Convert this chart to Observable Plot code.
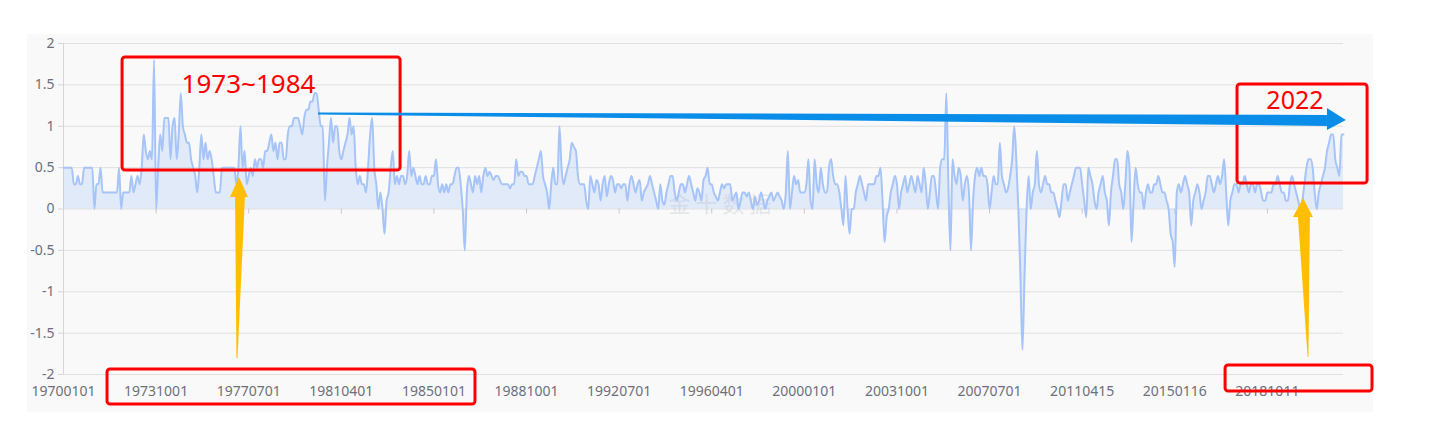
<!DOCTYPE html>
<html><head><meta charset="utf-8">
<script src="https://cdn.jsdelivr.net/npm/d3@7"></script>
<script src="https://cdn.jsdelivr.net/npm/@observablehq/plot@0.6"></script>
<style>
body{margin:0;background:#fff;}
#wrap{position:relative;width:1430px;height:432px;overflow:hidden;}
#panel{position:absolute;left:27px;top:34px;width:1346px;height:378px;background:#f9f9f9;}
#chart{position:absolute;left:0;top:0;}
</style></head><body>
<div id="wrap"><div id="panel"></div><div id="chart"></div></div>
<script>
// monthly values
const v1970s = [
 0.5,0.5,0.5,0.5,0.5,0.3,0.3,0.4,0.3,0.3,0.5,0.5,
 0.5,0.5,0.5,0.0,0.3,0.3,0.5,0.2,0.2,0.2,0.2,0.2,
 0.2,0.2,0.2,0.5,0.0,0.2,0.2,0.2,0.2,0.4,0.2,0.3,
 0.4,0.3,0.5,0.9,0.7,0.6,0.7,0.6,1.8,0.0,0.5,0.9,
 0.7,1.1,1.1,1.1,0.6,1.0,1.1,0.6,0.9,1.4,1.0,0.9,
 0.8,0.8,0.6,0.5,0.4,0.2,0.5,0.9,0.6,0.8,0.6,0.7,
 0.6,0.4,0.2,0.2,0.2,0.5,0.5,0.5,0.5,0.5,0.5,0.5,
 0.3,0.5,1.0,0.5,0.7,0.3,0.4,0.5,0.4,0.6,0.5,0.6,
 0.6,0.5,0.7,0.7,0.8,0.9,0.7,0.8,0.6,0.8,0.8,0.6,
 0.6,0.9,1.0,1.0,1.1,1.1,1.1,1.0,0.9,1.1,1.2,1.2
];
const v1980s = [
 1.3,1.3,1.4,1.4,1.2,1.0,1.0,0.1,0.5,0.8,1.1,0.8,
 1.0,1.0,0.7,0.6,0.7,0.8,0.9,1.1,0.9,1.0,0.5,0.3,
 0.4,0.3,0.3,0.2,0.5,0.9,1.1,0.5,0.3,0.0,0.2,0.0,
 -0.3,0.1,0.2,0.5,0.7,0.3,0.4,0.3,0.4,0.4,0.3,0.4,
 0.7,0.4,0.5,0.4,0.3,0.4,0.3,0.3,0.4,0.3,0.3,0.4,
 0.4,0.6,0.3,0.2,0.3,0.2,0.3,0.2,0.3,0.3,0.4,0.5,
 0.5,0.3,0.0,-0.5,0.2,0.4,0.3,0.2,0.4,0.3,0.4,0.2,
 0.4,0.5,0.4,0.45,0.4,0.35,0.4,0.4,0.35,0.3,0.3,0.3,
 0.3,0.25,0.3,0.3,0.6,0.4,0.45,0.45,0.4,0.4,0.3,0.3,
 0.3,0.4,0.5,0.6,0.7,0.4,0.3,0.2,0.0,0.3,0.5,0.3
];
const v1990s = [
 0.3,1.0,0.5,0.3,0.4,0.5,0.6,0.8,0.75,0.7,0.4,0.3,
 0.3,0.3,0.1,0.0,0.4,0.3,0.2,0.35,0.3,0.1,0.3,0.4,
 0.15,0.3,0.4,0.35,0.2,0.3,0.3,0.25,0.3,0.3,0.1,0.3,
 0.4,0.3,0.2,0.3,0.35,0.1,0.2,0.25,0.3,0.4,0.3,0.2,
 0.1,0.0,0.3,0.1,0.05,0.2,0.3,0.4,0.4,0.2,0.1,0.2,
 0.3,0.3,0.2,0.3,0.4,0.3,0.2,0.1,0.25,0.2,0.1,0.35,
 0.4,0.5,0.3,0.3,0.2,0.15,0.1,0.2,0.3,0.25,0.3,0.3,
 0.3,0.1,0.15,0.2,0.0,0.1,0.2,0.2,0.15,0.2,0.1,0.0,
 0.15,0.05,0.1,0.2,0.1,0.0,0.1,0.15,0.2,0.1,0.15,0.2,
 0.15,0.1,0.0,0.2,0.7,0.0,0.2,0.4,0.3,0.35,0.2,0.2
];
const v2000s = [
 0.2,0.3,0.6,0.1,0.0,0.6,0.3,0.2,0.5,0.3,0.2,0.2,
 0.5,0.6,0.4,0.3,0.3,0.2,0.0,-0.2,0.4,0.0,-0.3,0.0,
 0.0,0.2,0.3,0.4,0.3,0.2,0.1,0.3,0.3,0.3,0.3,0.4,
 0.4,0.5,0.1,-0.4,-0.1,0.0,0.2,0.3,0.4,0.3,0.0,0.2,
 0.3,0.4,0.2,0.3,0.4,0.3,0.2,0.4,0.3,0.2,0.5,0.3,
 0.0,0.2,0.4,0.4,0.2,0.0,0.5,0.6,0.6,1.4,0.3,-0.5,
 0.6,0.4,0.3,0.5,0.4,0.1,0.3,0.4,0.2,-0.5,0.1,0.4,
 0.5,0.4,0.5,0.4,0.4,0.3,0.0,0.2,0.4,0.3,0.3,0.8,
 0.4,0.3,0.2,0.25,0.4,0.6,1.0,0.6,0.0,-0.8,-1.7,-0.8,
 0.0,0.4,0.0,0.2,0.3,0.7,0.3,0.2,0.3,0.4,0.3,0.3
];
const v2010s = [
 0.2,0.2,0.1,0.0,-0.1,0.1,0.3,0.3,0.1,0.2,0.3,0.4,
 0.5,0.5,0.5,0.3,0.1,-0.1,0.5,0.4,0.3,0.1,0.0,0.2,
 0.3,0.4,0.2,0.1,-0.2,0.2,0.4,0.6,0.6,0.3,0.2,0.0,
 0.3,0.7,0.5,-0.4,0.1,0.5,0.3,0.2,0.2,0.0,0.2,0.3,
 0.2,0.2,0.3,0.3,0.4,0.3,0.2,0.2,0.1,0.0,-0.3,-0.4,
 -0.7,0.2,0.3,0.2,0.3,0.4,0.3,0.2,-0.2,0.1,0.2,0.3,
 0.2,0.0,0.1,0.2,0.4,0.4,0.3,0.2,0.3,0.4,0.3,0.4,
 0.6,0.2,-0.2,0.1,0.2,0.3,0.3,0.2,0.3,0.3,0.4,0.3,
 0.2,0.3,0.3,0.2,0.3,0.3,0.2,0.1,0.1,0.2,0.2,0.2,
 0.3,0.3,0.4,0.3,0.2,0.2,0.1,0.1,0.3,0.4,0.3,0.2
];
const v2020s = [
 0.1,0.0,0.1,0.3,0.5,0.6,0.6,0.5,0.2,0.0,0.2,0.3,
 0.4,0.5,0.7,0.8,0.9,0.9,0.6,0.5,0.4,0.9,0.9
];

const tickLabels = ["19700101","19731001","19770701","19810401","19850101","19881001","19920701",
  "19960401","20000101","20031001","20070701","20110415","20150116","20181011"];
const tickStep = 45;
const yTicks = [-2,-1.5,-1,-0.5,0,0.5,1,1.5,2];

// hand-drawn annotations, in data units (x = month index, y = value)
const redBoxes = [
  {x1:28.7, x2:163.8, y1:0.465, y2:1.831},
  {x1:570.5, x2:633.7, y1:0.308, y2:1.505},
  {x1:21.4, x2:200.2, y1:-2.362, y2:-1.939},
  {x1:564.7, x2:636.1, y1:-2.205, y2:-1.891}
];
const redTexts = [
  {label:"1973~1984", x:89.9, y:1.505, size:26},
  {label:"2022", x:598.4, y:1.305, size:25}
];
const blueArrow = [
  {part:"shaft", x:123.9, lo:1.136, hi:1.160},
  {part:"shaft", x:614.2, lo:0.997, hi:1.130},
  {part:"head", x:614.2, lo:0.949, hi:1.214},
  {part:"head", x:623.4, lo:1.069, hi:1.069}
];
const yellowArrows = [
  {part:"s1", y:-1.807, lo:84.3, hi:84.8},
  {part:"s1", y:0.139, lo:83.6, hi:88.4},
  {part:"h1", y:0.139, lo:81.2, hi:89.9},
  {part:"h1", y:0.381, lo:85.5, hi:85.5},
  {part:"s2", y:-1.795, lo:604.8, hi:605.2},
  {part:"s2", y:-0.103, lo:600.1, hi:605.9},
  {part:"h2", y:-0.103, lo:597.7, hi:607.4},
  {part:"h2", y:0.127, lo:602.6, hi:602.6}
];
const watermark = [{label:"金 十 数 据", x:319, y:0.05}];

const values = [].concat(v1970s, v1980s, v1990s, v2000s, v2010s, v2020s);
const data = values.map((v, i) => ({i, v}));
const tickIdx = tickLabels.map((_, k) => k * tickStep);

const chart = Plot.plot({
  width: 1430, height: 432,
  marginLeft: 63, marginRight: 87, marginTop: 43, marginBottom: 58,
  style: {background: "transparent", fontFamily: "'Noto Sans', sans-serif", fontSize: "14px", color: "#6e7079"},
  x: {domain: [0, values.length - 1]},
  y: {domain: [-2, 2]},
  marks: [
    Plot.gridY({ticks: yTicks, stroke: "#e0e0e0", strokeOpacity: 1}),
    Plot.ruleX([0], {y1: -2, y2: 2, stroke: "#d6d6d6"}),
    Plot.axisY({ticks: yTicks, tickSize: 5, tickPadding: 4, tickFormat: d => String(d), stroke: "#d6d6d6", fill: "#6e7079", label: null}),
    Plot.axisX({ticks: tickIdx, tickSize: 0, tickPadding: 12, tickFormat: d => tickLabels[Math.round(d / tickStep)], fill: "#6e7079", label: null}),
    Plot.ruleX(tickIdx.slice(1), {y1: 0, y2: -0.06, stroke: "#c8c8c8"}),
    Plot.text(watermark, {x: "x", y: "y", text: "label", fill: "#b8bcc6", fillOpacity: 0.35, fontSize: 22, fontFamily: "'Noto Sans CJK SC', sans-serif"}),
    Plot.areaY(data, {x: "i", y: "v", fill: "#a9c6f8", fillOpacity: 0.3, curve: "monotone-x"}),
    Plot.lineY(data, {x: "i", y: "v", stroke: "#a6c4f8", strokeWidth: 2, curve: "monotone-x"}),
    Plot.rect(redBoxes, {x1: "x1", x2: "x2", y1: "y1", y2: "y2", fill: "none", stroke: "#ff0000", strokeWidth: 3, rx: 3}),
    Plot.text(redTexts, {x: "x", y: "y", text: "label", fill: "#ff0000", fontSize: "size", fontFamily: "'Noto Sans', sans-serif"}),
    Plot.areaY(blueArrow, {x: "x", y1: "lo", y2: "hi", z: "part", fill: "#0a8de8", curve: "linear"}),
    Plot.areaX(yellowArrows, {y: "y", x1: "lo", x2: "hi", z: "part", fill: "#ffbf00", curve: "linear"})
  ]
});
document.getElementById("chart").appendChild(chart);
</script>
</body></html>
